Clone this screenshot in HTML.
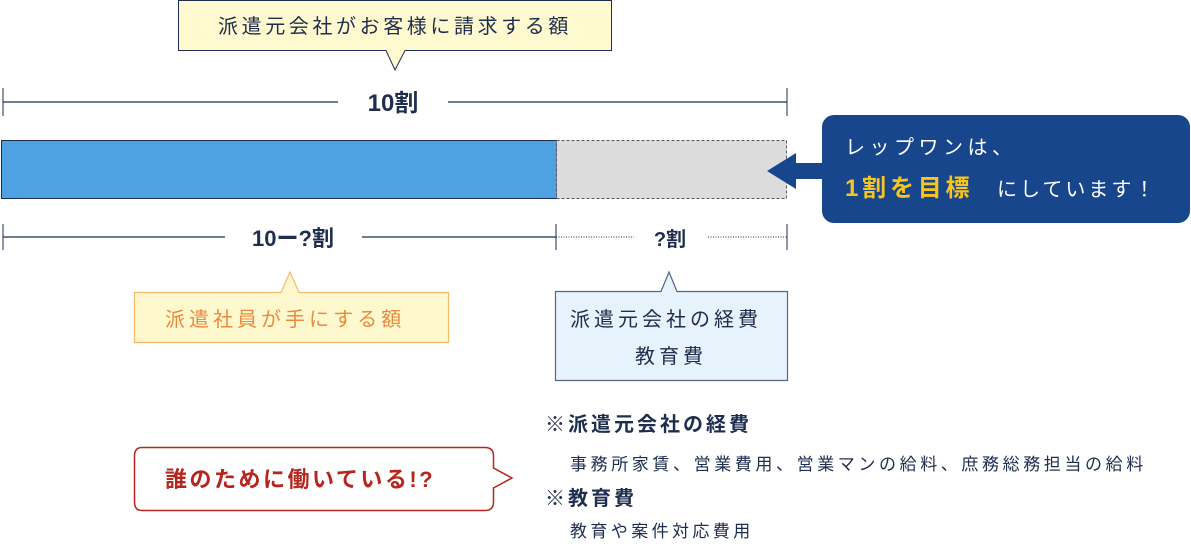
<!DOCTYPE html>
<html><head><meta charset="utf-8"><style>
html,body{margin:0;padding:0;background:#fff;}
svg text{font-family:"Liberation Sans","Noto Sans CJK JP",sans-serif;}
</style></head><body>
<svg width="1191" height="541" viewBox="0 0 1191 541" xmlns="http://www.w3.org/2000/svg">
<path d="M178.5,0.5 H611.5 V50.5 H405 L395,70 L386,50.5 H178.5 Z" fill="#fef9cf" stroke="#1f2d4e" stroke-width="1"/>
<text x="218" y="33" font-size="20" fill="#1f2d4e" letter-spacing="3.6">派遣元会社がお客様に請求する額</text>
<line x1="3" y1="102" x2="338" y2="102" stroke="#1f2d4e" stroke-width="1.2"/>
<line x1="448" y1="102" x2="787" y2="102" stroke="#1f2d4e" stroke-width="1.2"/>
<line x1="3" y1="88" x2="3" y2="116" stroke="#1f2d4e"/>
<line x1="787" y1="88" x2="787" y2="116" stroke="#1f2d4e"/>
<text x="393" y="111" font-size="24" font-weight="bold" fill="#1f2d4e" text-anchor="middle">10割</text>
<rect x="1.5" y="140.5" width="555" height="58" fill="#4ea2e1" stroke="#1f2d4e" stroke-width="1"/>
<rect x="556.5" y="140.5" width="230" height="58" fill="#dcdcdc" stroke="#555a66" stroke-width="1" stroke-dasharray="3,2"/>
<line x1="3" y1="237" x2="225" y2="237" stroke="#1f2d4e" stroke-width="1.2"/>
<line x1="362" y1="237" x2="556" y2="237" stroke="#1f2d4e" stroke-width="1.2"/>
<line x1="556" y1="237" x2="634" y2="237" stroke="#1f2d4e" stroke-width="1" stroke-dasharray="1,1.5"/>
<line x1="708" y1="237" x2="787" y2="237" stroke="#1f2d4e" stroke-width="1" stroke-dasharray="1,1.5"/>
<line x1="3" y1="224" x2="3" y2="250" stroke="#1f2d4e"/>
<line x1="556" y1="224" x2="556" y2="250" stroke="#1f2d4e"/>
<line x1="787" y1="224" x2="787" y2="250" stroke="#1f2d4e"/>
<text x="293" y="246" font-size="22" font-weight="bold" fill="#1f2d4e" text-anchor="middle">10ー?割</text>
<text x="670" y="246" font-size="20" font-weight="bold" fill="#1f2d4e" text-anchor="middle">?割</text>
<path d="M134.5,292.5 H281 L290,272 L299,292.5 H448.5 V342.5 H134.5 Z" fill="#fef8cf" stroke="#f7b86a" stroke-width="1.2"/>
<text x="165" y="326" font-size="20" fill="#ec8a3c" letter-spacing="4">派遣社員が手にする額</text>
<path d="M555.5,291.5 H661 L669,272 L677,291.5 H787.5 V380.5 H555.5 Z" fill="#e6f2fc" stroke="#5a6580" stroke-width="1.2"/>
<text x="570" y="326" font-size="20" fill="#1f2d4e" letter-spacing="4">派遣元会社の経費</text>
<text x="635" y="363" font-size="20" fill="#1f2d4e" letter-spacing="4">教育費</text>
<rect x="822" y="115" width="368" height="108" rx="12" fill="#17468c"/>
<rect x="795" y="163" width="30" height="16" fill="#17468c"/>
<path d="M767,171 L796,153 L796,189 Z" fill="#17468c"/>
<text x="845" y="154" font-size="20" fill="#fff" letter-spacing="4.5">レップワンは、</text>
<text x="845" y="196" font-size="24" font-weight="bold" fill="#f7c51c" letter-spacing="3.8">1割を目標</text>
<text x="997" y="196" font-size="20" fill="#fff" letter-spacing="3">にしています！</text>
<path d="M142,447.5 H485 Q493.5,447.5 493.5,456 V468 L512,478 L493.5,488 V502 Q493.5,510.5 485,510.5 H142 Q134.5,510.5 134.5,502 V456 Q134.5,447.5 142,447.5 Z" fill="#fff" stroke="#b5261e" stroke-width="1.5"/>
<text x="165" y="487" font-size="22" font-weight="bold" fill="#b5261e" letter-spacing="2.5">誰のために働いている!?</text>
<text x="545" y="431" font-size="20" font-weight="bold" fill="#1f2d4e" letter-spacing="3">※派遣元会社の経費</text>
<text x="570" y="470" font-size="17" fill="#1f2d4e" letter-spacing="3.6">事務所家賃、営業費用、営業マンの給料、庶務総務担当の給料</text>
<text x="545" y="505" font-size="20" font-weight="bold" fill="#1f2d4e" letter-spacing="3">※教育費</text>
<text x="570" y="537" font-size="17" fill="#1f2d4e" letter-spacing="3.4">教育や案件対応費用</text>
</svg>
</body></html>
